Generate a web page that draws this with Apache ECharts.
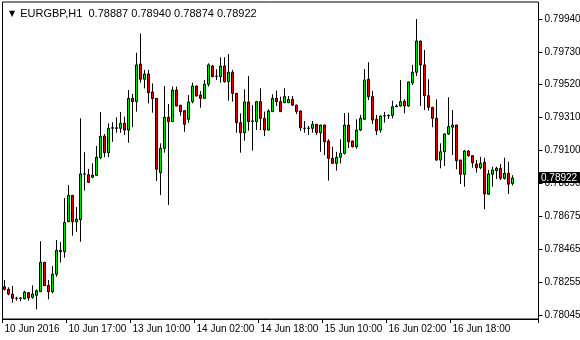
<!DOCTYPE html>
<html><head><meta charset="utf-8">
<script src="https://cdn.jsdelivr.net/npm/echarts@6/dist/echarts.min.js"></script>
<style>html,body{margin:0;padding:0;background:#fff}#c{width:580px;height:340px}</style>
</head><body><div id="c"></div>
<script>
const symbolTitle = 'EURGBP,H1';
const lastBarText = ['0.78887', '0.78940', '0.78874', '0.78922'];
const sessions = [['10 Jun', 1, 22], ['13 Jun', 0, 23], ['14 Jun', 0, 23], ['15 Jun', 0, 23], ['16 Jun', 0, 23], ['17 Jun', 0, 9]];
const tickLabels = ['10 Jun 2016', '10 Jun 17:00', '13 Jun 10:00', '14 Jun 02:00', '14 Jun 18:00', '15 Jun 10:00', '16 Jun 02:00', '16 Jun 18:00'];
const priceTicks = [0.78045, 0.78255, 0.78465, 0.78675, 0.78890, 0.79100, 0.79310, 0.79520, 0.79730, 0.79940];
const currentPrice = 0.78922;
const emptySlots = 6;

const open = [0.78226,0.78209,0.78178,0.78152,0.78151,0.78149,0.78188,0.78158,0.78171,0.78194,
0.78382,0.78235,0.78194,0.78306,0.78450,0.78450,0.78642,0.78811,0.78642,0.78655,
0.78948,0.78943,0.78927,0.78939,0.79052,0.79191,0.79084,0.79241,0.79243,0.79240,
0.79272,0.79229,0.79432,0.79411,0.79652,0.79554,0.79588,0.79473,0.79432,0.78956,
0.79112,0.79311,0.79283,0.79485,0.79388,0.79353,0.79298,0.79411,0.79511,0.79453,
0.79432,0.79522,0.79639,0.79573,0.79571,0.79639,0.79539,0.79599,0.79464,0.79276,
0.79212,0.79409,0.79285,0.79283,0.79411,0.79304,0.79229,0.79347,0.79432,0.79411,
0.79404,0.79404,0.79425,0.79389,0.79351,0.79241,0.79240,0.79240,0.79266,0.79212,
0.79261,0.79159,0.79048,0.79016,0.79055,0.79080,0.79261,0.79159,0.79122,0.79229,
0.79298,0.79554,0.79443,0.79298,0.79229,0.79319,0.79320,0.79323,0.79379,0.79383,
0.79413,0.79383,0.79530,0.79599,0.79799,0.79646,0.79449,0.79375,0.79304,0.79037,
0.79090,0.79204,0.79247,0.79261,0.79037,0.78946,0.79095,0.79065,0.79012,0.78988,
0.79023,0.78818,0.78946,0.78969,0.78984,0.78920,0.78952,0.78887];
const close = [0.78209,0.78179,0.78152,0.78151,0.78154,0.78192,0.78154,0.78179,0.78200,0.78382,
0.78233,0.78194,0.78306,0.78459,0.78459,0.78638,0.78811,0.78642,0.78658,0.78948,
0.78947,0.78894,0.78941,0.79055,0.79189,0.79084,0.79240,0.79244,0.79240,0.79272,
0.79229,0.79432,0.79411,0.79646,0.79554,0.79588,0.79468,0.79430,0.78978,0.79112,
0.79311,0.79283,0.79485,0.79383,0.79347,0.79266,0.79409,0.79511,0.79447,0.79432,
0.79522,0.79646,0.79571,0.79575,0.79639,0.79539,0.79599,0.79464,0.79276,0.79212,
0.79409,0.79283,0.79287,0.79411,0.79304,0.79229,0.79351,0.79432,0.79411,0.79347,
0.79443,0.79425,0.79389,0.79347,0.79244,0.79240,0.79241,0.79266,0.79212,0.79261,
0.79154,0.79048,0.79016,0.79055,0.79080,0.79261,0.79154,0.79122,0.79229,0.79304,
0.79549,0.79443,0.79293,0.79225,0.79319,0.79320,0.79323,0.79379,0.79383,0.79411,
0.79383,0.79537,0.79599,0.79799,0.79646,0.79449,0.79375,0.79304,0.79037,0.79090,
0.79204,0.79251,0.79261,0.79033,0.78946,0.79095,0.79065,0.79020,0.78988,0.79016,
0.78820,0.78948,0.78973,0.78984,0.78920,0.78952,0.78882,0.78922];
const low = [0.78202,0.78171,0.78124,0.78137,0.78133,0.78145,0.78137,0.78149,0.78081,0.78192,
0.78231,0.78145,0.78184,0.78290,0.78380,0.78412,0.78640,0.78553,0.78578,0.78514,
0.78841,0.78892,0.78920,0.78937,0.79042,0.79055,0.79055,0.79154,0.79212,0.79212,
0.79197,0.79148,0.79247,0.79347,0.79532,0.79496,0.79400,0.79340,0.78903,0.78813,
0.79084,0.78749,0.79281,0.79381,0.79321,0.79218,0.79276,0.79400,0.79445,0.79372,
0.79430,0.79507,0.79567,0.79549,0.79532,0.79532,0.79417,0.79411,0.79212,0.79084,
0.79161,0.79225,0.79097,0.79229,0.79229,0.79191,0.79227,0.79345,0.79383,0.79345,
0.79402,0.79402,0.79383,0.79332,0.79223,0.79212,0.79197,0.79212,0.79197,0.79090,
0.79069,0.78905,0.79014,0.78969,0.79016,0.79073,0.79114,0.79118,0.79110,0.79223,
0.79294,0.79421,0.79268,0.79197,0.79212,0.79276,0.79300,0.79304,0.79375,0.79379,
0.79336,0.79379,0.79517,0.79575,0.79383,0.79357,0.79353,0.79247,0.79033,0.78984,
0.78999,0.79197,0.79069,0.78978,0.78884,0.78866,0.79058,0.78988,0.78956,0.78978,
0.78722,0.78813,0.78866,0.78916,0.78909,0.78912,0.78820,0.78874];
const high = [0.78269,0.78222,0.78231,0.78162,0.78158,0.78200,0.78192,0.78235,0.78209,0.78517,
0.78385,0.78269,0.78359,0.78525,0.78512,0.78794,0.78877,0.78813,0.78736,0.79304,
0.79087,0.78980,0.79016,0.79127,0.79345,0.79204,0.79272,0.79279,0.79311,0.79345,
0.79315,0.79485,0.79460,0.79724,0.79848,0.79614,0.79614,0.79528,0.79434,0.79144,
0.79511,0.79396,0.79507,0.79507,0.79390,0.79355,0.79453,0.79532,0.79513,0.79479,
0.79549,0.79656,0.79646,0.79618,0.79695,0.79695,0.79716,0.79614,0.79466,0.79336,
0.79490,0.79575,0.79389,0.79415,0.79496,0.79347,0.79362,0.79458,0.79481,0.79443,
0.79496,0.79447,0.79447,0.79391,0.79353,0.79287,0.79255,0.79287,0.79268,0.79263,
0.79263,0.79170,0.79122,0.79090,0.79170,0.79338,0.79340,0.79161,0.79298,0.79326,
0.79620,0.79663,0.79479,0.79326,0.79321,0.79345,0.79329,0.79417,0.79394,0.79549,
0.79426,0.79539,0.79646,0.79940,0.79801,0.79742,0.79554,0.79377,0.79426,0.79144,
0.79206,0.79439,0.79357,0.79263,0.79039,0.79101,0.79101,0.79067,0.79037,0.79058,
0.79052,0.78973,0.78994,0.78994,0.79012,0.79052,0.79026,0.78940];

const categories = [];
sessions.forEach(([d, a, b]) => {
  for (let h = a; h <= b; h++) categories.push(d + ' ' + String(h).padStart(2, '0') + ':00');
});
for (let i = 0; i < emptySlots; i++) categories.push('');
const candles = open.map((o, i) => [o, close[i], low[i], high[i]]);
for (let i = 0; i < emptySlots; i++) candles.push('-');

const FONT = 'Liberation Sans';
const barCount = open.length;
const showTick = (i) => i % 16 === 0 && i < barCount;

const chart = echarts.init(document.getElementById('c'), null, {renderer: 'canvas'});
chart.setOption({
  animation: false,
  backgroundColor: '#fff',
  title: {
    left: 4, top: 3,
    text: '{t|\u25BC} ' + symbolTitle + '  ' + lastBarText.join(' '),
    textStyle: {
      fontFamily: FONT, fontSize: 11, fontWeight: 'normal', color: '#000',
      rich: {t: {fontSize: 8, color: '#000', fontFamily: 'DejaVu Sans', padding: [0, 2, 0, 0]}}
    }
  },
  grid: {
    left: 2.5, right: 41.5, top: 2, bottom: 21,
    outerBoundsMode: 'none', containLabel: false,
    show: true, borderColor: '#000', borderWidth: 1, backgroundColor: '#fff'
  },
  xAxis: {
    type: 'category', data: categories, boundaryGap: true,
    axisLine: {show: true, lineStyle: {color: '#000', width: 1}},
    axisTick: {show: true, length: 4, interval: showTick, lineStyle: {color: '#000'}},
    axisLabel: {
      interval: showTick, align: 'left', margin: 5,
      formatter: (v, i) => tickLabels[Math.round(i / 16)] || '',
      color: '#000', fontFamily: FONT, fontSize: 10
    },
    splitLine: {show: false}
  },
  yAxis: {
    type: 'value', position: 'right', min: 0.780194, max: 0.800488, scale: true,
    axisLine: {show: false},
    splitLine: {show: false},
    axisTick: {show: true, length: 4, customValues: priceTicks, lineStyle: {color: '#000'}},
    axisLabel: {customValues: priceTicks, formatter: (v) => v.toFixed(5), color: '#000', fontFamily: FONT, fontSize: 10, margin: 6}
  },
  series: [{
    type: 'candlestick',
    data: candles,
    barWidth: 2,
    itemStyle: {color: '#00e000', color0: '#e00000', borderColor: '#000', borderColor0: '#000', borderColorDoji: '#000', borderWidth: 1}
  }]
});

// current price tag on the price axis, positioned through the axis scale
const py = chart.convertToPixel({yAxisIndex: 0}, currentPrice);
chart.setOption({
  graphic: [{
    type: 'text', z: 100, left: 538, top: Math.round(py) - 6,
    style: {
      text: currentPrice.toFixed(5), fill: '#fff', backgroundColor: '#000',
      padding: [1, 3, 0, 3], font: '10px "Liberation Sans"'
    }
  }]
});
</script>
</body></html>
